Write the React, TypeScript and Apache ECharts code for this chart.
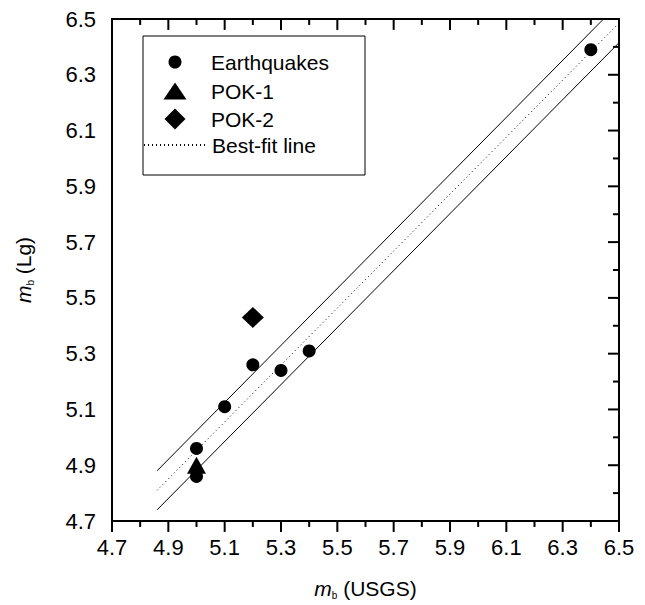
import React, { useEffect, useRef } from 'react';
import * as echarts from 'echarts';

// Data
const earthquakes: [number, number][] = [
  [5.0, 4.86], [5.0, 4.96], [5.1, 5.11], [5.2, 5.26], [5.3, 5.24], [5.4, 5.31], [6.4, 6.39],
];
const pok1: [number, number][] = [[5.0, 4.9]];
const pok2: [number, number][] = [[5.2, 5.43]];
const bestFit: [number, number][] = [[4.86, 4.81], [6.49, 6.475]];
const upperBound: [number, number][] = [[4.86, 4.88], [6.445, 6.5]];
const lowerBound: [number, number][] = [[4.86, 4.74], [6.5, 6.415]];
const axisMin = 4.7;
const axisMax = 6.5;
const axisStep = 0.2;
const majorTicks = [4.7, 4.9, 5.1, 5.3, 5.5, 5.7, 5.9, 6.1, 6.3, 6.5];
const minorTicks = [4.8, 5.0, 5.2, 5.4, 5.6, 5.8, 6.0, 6.2, 6.4];
const legendNames = ['Earthquakes', 'POK-1', 'POK-2', 'Best-fit line'];

const FONT = '"Liberation Sans", Arial, Helvetica, sans-serif';
const PLOT_PX = 506; // approximate plot size in pixels, used to convert tick length to axis units

const nameRich = {
  i: { fontFamily: FONT, fontStyle: 'italic' as const, fontSize: 21, color: '#000', lineHeight: 24 },
  s: { fontFamily: FONT, fontSize: 10, color: '#000', lineHeight: 10, verticalAlign: 'bottom' as const },
  n: { fontFamily: FONT, fontSize: 21, color: '#000', lineHeight: 24 },
};

function mainAxis(dim: 'x' | 'y') {
  return {
    type: 'value',
    min: axisMin,
    max: axisMax,
    interval: axisStep,
    splitLine: { show: false },
    axisLine: { show: true, lineStyle: { color: '#000', width: 2 } },
    axisTick: { show: false },
    axisLabel: {
      show: true,
      formatter: (v: number) => v.toFixed(1),
      fontFamily: FONT,
      fontSize: 22,
      color: '#000',
      margin: dim === 'x' ? 15 : 16,
    },
    name: dim === 'x' ? '{i|m}{s|b}{n| (USGS)}' : '{i|m}{s|b}{n| (Lg)}',
    nameLocation: 'middle',
    nameGap: dim === 'x' ? 55 : 77,
    nameRotate: dim === 'x' ? 0 : 90,
    nameTextStyle: { rich: nameRich },
  };
}

function legendFor(name: string, centerY: number, iconW: number, iconH: number, extra: any = {}) {
  const iconCenterX = 175;
  const textStart = 211;
  const left = extra.left ?? iconCenterX - iconW / 2;
  const padLeft = textStart - 5 - (left + iconW);
  return {
    show: true,
    orient: 'vertical',
    left,
    top: centerY - 12,
    padding: 0,
    itemGap: 0,
    itemWidth: iconW,
    itemHeight: iconH,
    selectedMode: false,
    textStyle: {
      fontFamily: FONT,
      fontSize: 21,
      color: '#000',
      lineHeight: 24,
      padding: [0, 0, 0, Math.max(0, padLeft)],
    },
    data: [name],
    ...extra,
  };
}

// Tick marks as short line series drawn through the axes' own scales.
// bottom/left ticks point outward, top/right ticks point inward.
function tickSeries(values: number[], lenPx: number) {
  const d = (lenPx * (axisMax - axisMin)) / PLOT_PX;
  const out: any[] = [];
  values.forEach((v) => {
    const segs: [number, number][][] = [
      [[v, axisMin], [v, axisMin - d]],
      [[v, axisMax], [v, axisMax - d]],
      [[axisMin, v], [axisMin - d, v]],
      [[axisMax, v], [axisMax - d, v]],
    ];
    segs.forEach((seg) => {
      out.push({
        type: 'line',
        data: seg,
        symbol: 'none',
        clip: false,
        silent: true,
        z: 4,
        lineStyle: { color: '#000', width: 2 },
      });
    });
  });
  return out;
}

export default function App() {
  const ref = useRef<HTMLDivElement>(null);

  useEffect(() => {
    if (!ref.current) return;
    const chart = echarts.init(ref.current, undefined, { renderer: 'svg' });
    const option: any = {
      animation: false,
      grid: {
        left: 112,
        right: 26,
        top: 19,
        bottom: 81,
        show: true,
        borderColor: '#000',
        borderWidth: 2,
        backgroundColor: 'transparent',
      },
      xAxis: mainAxis('x'),
      yAxis: mainAxis('y'),
      legend: [
        legendFor(legendNames[0], 62, 13, 13),
        legendFor(legendNames[1], 91, 23, 17),
        legendFor(legendNames[2], 119, 21, 21),
        legendFor(legendNames[3], 145, 62, 14, { left: 143, itemStyle: { opacity: 0 } }),
      ],
      graphic: [
        {
          type: 'rect',
          shape: { x: 143, y: 36, width: 222, height: 139 },
          style: { fill: 'none', stroke: '#000', lineWidth: 1 },
          silent: true,
          z: 10,
        },
      ],
      series: [
        ...tickSeries(majorTicks, 11),
        ...tickSeries(minorTicks, 6),
        {
          name: 'upper',
          type: 'line',
          data: upperBound,
          symbol: 'none',
          lineStyle: { color: '#000', width: 1 },
        },
        {
          name: 'lower',
          type: 'line',
          data: lowerBound,
          symbol: 'none',
          lineStyle: { color: '#000', width: 1 },
        },
        {
          name: legendNames[3],
          type: 'line',
          data: bestFit,
          symbol: 'none',
          itemStyle: { color: '#000' },
          lineStyle: { color: '#000', width: 1, type: [1, 3] },
        },
        {
          name: legendNames[1],
          type: 'scatter',
          data: pok1,
          symbol: 'triangle',
          symbolSize: [19, 17],
          itemStyle: { color: '#000', opacity: 1 },
        },
        {
          name: legendNames[2],
          type: 'scatter',
          data: pok2,
          symbol: 'diamond',
          symbolSize: [22, 21],
          itemStyle: { color: '#000', opacity: 1 },
        },
        {
          name: legendNames[0],
          type: 'scatter',
          data: earthquakes,
          symbol: 'circle',
          symbolSize: 13,
          itemStyle: { color: '#000', opacity: 1 },
        },
      ],
    };
    chart.setOption(option);
    return () => chart.dispose();
  }, []);

  return (
    <div
      ref={ref}
      style={{ position: 'fixed', left: 0, top: 0, width: 645, height: 605, background: '#fff' }}
    />
  );
}
